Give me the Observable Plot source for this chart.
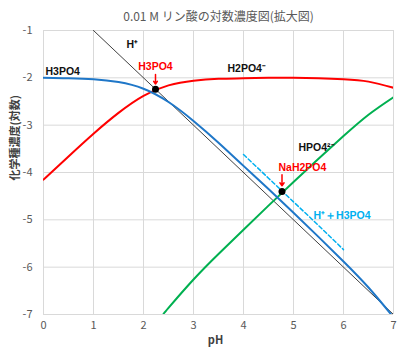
<!DOCTYPE html>
<html><head><meta charset="utf-8">
<script src="https://cdn.jsdelivr.net/npm/d3@7"></script>
<script src="https://cdn.jsdelivr.net/npm/@observablehq/plot@0.6"></script>
<style>
html,body{margin:0;padding:0;background:#fff;}
#chart{width:400px;height:356px;}
svg{font-family:"Noto Sans CJK JP","Liberation Sans",sans-serif;}
</style></head>
<body><div id="chart"></div>
<script>
// pH grid for H3PO4 and H2PO4- curves
const pH = [0,0.5,1,1.5,2,2.5,3,3.5,4,4.5,5,5.5,6,6.5,7];
const h3po4 = [-2.00,-2.01,-2.03,-2.09,-2.23,-2.51,-2.91,-3.37,-3.86,-4.35,-4.85,-5.36,-5.88,-6.43,-7.06];
const h2po4 = [-4.15,-3.66,-3.18,-2.74,-2.38,-2.16,-2.06,-2.02,-2.01,-2.00,-2.00,-2.01,-2.03,-2.08,-2.21];
// HPO4 2-
const hpo4PH = [2.4,2.5,3,3.5,4,4.5,5,5.5,6,6.5,7];
const hpo4 = [-6.99,-6.86,-6.26,-5.72,-5.21,-4.70,-4.20,-3.71,-3.23,-2.78,-2.41];
// H+
const hPH = [1,7];
const hLog = [-1,-7];
// H+ + H3PO4 (dashed)
const dPH = [4,4.5,5,5.5,6];
const dLog = [-3.62,-4.12,-4.62,-5.12,-5.63];
// marked points
const dotPH = [2.24,4.77];
const dotLog = [-2.24,-4.40];
// arrows
const arrowPH = [2.24,4.77];
const arrowTop = [-1.93,-4.05];
const arrowBot = [-2.13,-4.28];
// ticks
const xTicks = [0,1,2,3,4,5,6,7];
const yTicks = [-1,-2,-3,-4,-5,-6,-7];

const zip = (xs, ys) => xs.map((x,i)=>({x, y: ys[i]}));

const labelsStart = [
  {x:0.04, y:-1.87, t:"H3PO4", c:"#111"},
  {x:1.66, y:-1.30, t:"H⁺", c:"#111"},
  {x:3.68, y:-1.80, t:"H2PO4⁻", c:"#111"},
  {x:5.10, y:-3.47, t:"HPO4²⁻", c:"#111"},
  {x:5.40, y:-4.91, t:"H⁺＋H3PO4", c:"#00B0F0"},
  {x:4.70, y:-3.90, t:"NaH2PO4", c:"#FF0000"}
];
const labelsMid = [
  {x:2.24, y:-1.76, t:"H3PO4", c:"#FF0000"}
];

const chart = Plot.plot({
  width: 400,
  height: 356,
  marginLeft: 43,
  marginRight: 7,
  marginTop: 30,
  marginBottom: 42,
  x: {domain:[0,7], ticks: xTicks, label: null},
  y: {domain:[-7,-1], ticks: yTicks, label: null},
  style: {fontSize: "11px", color: "#595959"},
  marks: [
    Plot.gridX(xTicks, {stroke:"#d9d9d9", strokeOpacity:1}),
    Plot.gridY(yTicks, {stroke:"#d9d9d9", strokeOpacity:1}),
    Plot.axisX({ticks: xTicks, tickSize:0, tickPadding:7, fill:"#595959", fontSize:11, tickFormat: d=>`${d}`}),
    Plot.axisY({ticks: yTicks, tickSize:0, tickPadding:11, fill:"#595959", fontSize:11, tickFormat: d=>`${d}`}),
    Plot.line(zip(hPH,hLog), {x:"x", y:"y", stroke:"#404040", strokeWidth:1, clip:true}),
    Plot.line(zip(pH,h2po4), {x:"x", y:"y", stroke:"#FF0000", strokeWidth:2, curve:"natural", clip:true}),
    Plot.line(zip(hpo4PH,hpo4), {x:"x", y:"y", stroke:"#00B050", strokeWidth:2, curve:"natural", clip:true}),
    Plot.line(zip(pH,h3po4), {x:"x", y:"y", stroke:"#1F77C8", strokeWidth:2, curve:"natural", clip:true}),
    Plot.line(zip(dPH,dLog), {x:"x", y:"y", stroke:"#00B0F0", strokeWidth:1.5, strokeDasharray:"4,2.5", curve:"natural"}),
    Plot.arrow(arrowPH.map((x,i)=>({x, y1:arrowTop[i], y2:arrowBot[i]})), {x1:"x", x2:"x", y1:"y1", y2:"y2", stroke:"#FF0000", strokeWidth:1.5, headLength:6, headAngle:70}),
    Plot.dot(zip(dotPH,dotLog), {x:"x", y:"y", r:3.5, fill:"#000", stroke:"none"}),
    Plot.text(labelsStart, {x:"x", y:"y", text:"t", fill:"c", textAnchor:"start", fontWeight:"bold", fontSize:10.5, fontFamily:"Liberation Sans, sans-serif"}),
    Plot.text(labelsMid, {x:"x", y:"y", text:"t", fill:"c", textAnchor:"middle", fontWeight:"bold", fontSize:10.5, fontFamily:"Liberation Sans, sans-serif"}),
    Plot.text(["0.01 M リン酸の対数濃度図(拡大図)"], {frameAnchor:"top", dy:-18, fill:"#595959", fontSize:12, text: d=>d}),
    Plot.text(["化学種濃度(対数)"], {frameAnchor:"left", dx:-28, dy:8, rotate:-90, fill:"#404040", fontSize:11, fontWeight:"bold", text:d=>d}),
    Plot.text(["pH"], {frameAnchor:"bottom", dy:29, dx:-3, fill:"#404040", fontSize:11, fontWeight:"bold", text:d=>d})
  ]
});
document.getElementById("chart").appendChild(chart);
</script></body></html>
